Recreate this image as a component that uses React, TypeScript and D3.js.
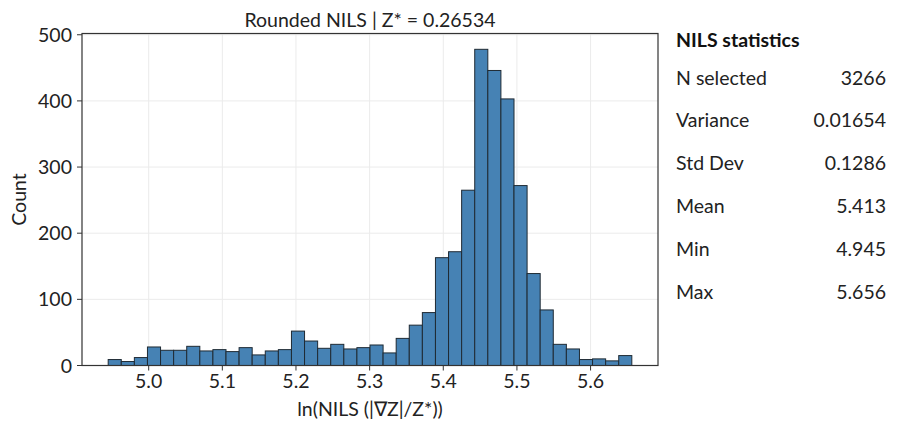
import React from "react";
import * as d3 from "d3";

const binStart = 4.945;
const binEnd = 5.656;
const counts = [
  9, 6, 12, 28, 23, 23, 29, 22, 24, 21, 27, 16, 22, 24, 52, 37, 26, 32, 25, 27,
  31, 19, 41, 61, 80, 163, 172, 265, 478, 446, 403, 272, 139, 84, 32, 25, 9, 10, 7, 15,
];
const xTicks = [5.0, 5.1, 5.2, 5.3, 5.4, 5.5, 5.6];
const yTicks = [0, 100, 200, 300, 400, 500];
const statLabels = ["N selected", "Variance", "Std Dev", "Mean", "Min", "Max"];
const statValues = ["3266", "0.01654", "0.1286", "5.413", "4.945", "5.656"];
const title = "Rounded NILS | Z* = 0.26534";
const xLabel = "ln(NILS (|\u2207Z|/Z*))";
const yLabel = "Count";
const statsTitle = "NILS statistics";

const W = 899;
const H = 424;
const m = { left: 82, right: 658, top: 33.5, bottom: 365.5 };
const font = "Lato, 'Open Sans', sans-serif";
const fs = 19.5;

export default function App() {
  const binW = (binEnd - binStart) / counts.length;
  const pad = (binEnd - binStart) * 0.05;
  const x = d3.scaleLinear().domain([binStart - pad, binEnd + pad]).range([m.left, m.right]);
  const ymax = d3.max(counts)! * 1.05;
  const y = d3.scaleLinear().domain([0, ymax]).range([m.bottom, m.top]);
  const bins = counts.map((c, i) => ({ x0: binStart + i * binW, x1: binStart + (i + 1) * binW, c }));

  return (
    <svg width={W} height={H} style={{ position: "absolute", left: 0, top: 0, background: "#fff" }} fontFamily={font}>
      <rect x={0} y={0} width={W} height={H} fill="#fff" />
      {xTicks.map((t) => (
        <line key={"gx" + t} x1={x(t)} x2={x(t)} y1={m.top} y2={m.bottom} stroke="#ebebeb" strokeWidth={1} />
      ))}
      {yTicks.map((t) => (
        <line key={"gy" + t} x1={m.left} x2={m.right} y1={y(t)} y2={y(t)} stroke="#ebebeb" strokeWidth={1} />
      ))}
      {bins.map((b, i) => (
        <rect
          key={i}
          x={x(b.x0)}
          y={y(b.c)}
          width={x(b.x1) - x(b.x0)}
          height={y(0) - y(b.c)}
          fill="#4682b4"
          stroke="#1f2a33"
          strokeWidth={1}
        />
      ))}
      <rect x={m.left} y={m.top} width={m.right - m.left} height={m.bottom - m.top} fill="none" stroke="#333" strokeWidth={1.2} />
      {xTicks.map((t) => (
        <g key={"tx" + t}>
          <line x1={x(t)} x2={x(t)} y1={m.bottom} y2={m.bottom + 5} stroke="#333" />
          <text x={x(t)} y={388} textAnchor="middle" fontSize={fs} fill="#222">
            {t.toFixed(1)}
          </text>
        </g>
      ))}
      {yTicks.map((t) => (
        <g key={"ty" + t}>
          <line x1={m.left - 5} x2={m.left} y1={y(t)} y2={y(t)} stroke="#333" />
          <text x={m.left - 10} y={y(t)} dy="0.36em" textAnchor="end" fontSize={fs} fill="#222">
            {t}
          </text>
        </g>
      ))}
      <text x={(m.left + m.right) / 2} y={27} textAnchor="middle" fontSize={fs} fill="#222">
        {title}
      </text>
      <text x={(m.left + m.right) / 2} y={416} textAnchor="middle" fontSize={fs} fill="#222">
        {xLabel}
      </text>
      <text transform={`translate(26,${(m.top + m.bottom) / 2}) rotate(-90)`} textAnchor="middle" fontSize={fs} fill="#222">
        {yLabel}
      </text>
      <text x={676} y={47} fontSize={fs} fontWeight="bold" fill="#111">
        {statsTitle}
      </text>
      {statLabels.map((l, i) => (
        <g key={l}>
          <text x={676} y={84.5 + i * 42.9} fontSize={fs} fill="#222">
            {l}
          </text>
          <text x={886} y={84.5 + i * 42.9} fontSize={fs} textAnchor="end" fill="#222">
            {statValues[i]}
          </text>
        </g>
      ))}
    </svg>
  );
}
